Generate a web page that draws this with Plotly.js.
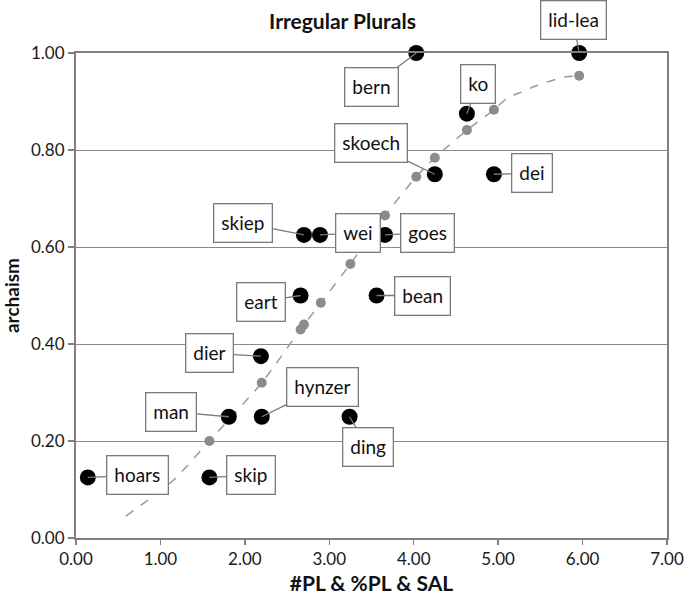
<!DOCTYPE html>
<html>
<head>
<meta charset="utf-8">
<script src="https://cdn.plot.ly/plotly-3.0.1.min.js"></script>
<style>html,body{margin:0;padding:0;background:#fff;}#chart{width:685px;height:595px;}</style>
</head>
<body>
<div id="chart"></div>
<script>
// ---- data ----
const words   = ['hoars','skip','man','hynzer','ding','dier','eart','bean','skiep','wei','goes','skoech','dei','ko','bern','lid-lea'];
const wordX   = [0.14, 1.58, 1.81, 2.20, 3.24, 2.19, 2.66, 3.56, 2.70, 2.89, 3.66, 4.25, 4.95, 4.63, 4.03, 5.96];
const wordY   = [0.125,0.125,0.25, 0.25, 0.25, 0.375,0.50, 0.50, 0.625,0.625,0.625,0.75, 0.75, 0.875,1.00, 1.00];

const fitX    = [1.58, 2.20, 2.66, 2.70, 2.90, 3.25, 3.66, 4.03, 4.25, 4.63, 4.95, 5.96];
const fitY    = [0.20, 0.32, 0.43, 0.44, 0.485,0.565,0.665,0.745,0.784,0.841,0.883,0.953];

const trendX  = [0.59, 0.96, 1.16, 1.58, 2.20, 2.68, 2.90, 3.25, 3.66, 4.03, 4.25, 4.63, 4.95, 5.10, 5.28, 5.46, 5.65, 5.81, 5.96];
const trendY  = [0.045,0.092,0.12, 0.20, 0.32, 0.435,0.485,0.565,0.665,0.745,0.784,0.841,0.883,0.906,0.92, 0.933,0.944,0.951,0.953];

const xTicks  = [0,1,2,3,4,5,6,7];
const xTickText = ['0.00','1.00','2.00','3.00','4.00','5.00','6.00','7.00'];
const yTicks  = [0,0.2,0.4,0.6,0.8,1.0];
const yTickText = ['0.00','0.20','0.40','0.60','0.80','1.00'];

// ---- label callout placement (pixel offsets of box from point) ----
const labelOffset = {
  'hoars':[50,-2], 'skip':[42,-2], 'man':[-58,-5], 'hynzer':[61,-30], 'ding':[18,30],
  'dier':[-51,-3], 'eart':[-40,6], 'bean':[46,0], 'skiep':[-61,-12], 'wei':[38,-2],
  'goes':[42,-2], 'skoech':[-64,-31], 'dei':[38,-1], 'ko':[11,-30], 'bern':[-45,34], 'lid-lea':[-6,-33]
};

const FONT = 'Lato, "Open Sans", sans-serif';

const traces = [
  {x: trendX, y: trendY, type:'scatter', mode:'lines', line:{color:'#9a9a9a', width:1.5, dash:'dash', shape:'spline', smoothing:0.6}, hoverinfo:'skip', cliponaxis:false},
  {x: fitX, y: fitY, type:'scatter', mode:'markers', marker:{color:'#8c8c8c', size:10}, cliponaxis:false},
  {x: wordX, y: wordY, type:'scatter', mode:'markers', marker:{color:'#000', size:16}, text: words, cliponaxis:false}
];

const annotations = words.map((w,i)=>({
  x: wordX[i], y: wordY[i], xref:'x', yref:'y',
  text: w, showarrow:true, arrowhead:0, arrowwidth:1.3, arrowcolor:'#7a7a7a',
  ax: labelOffset[w][0], ay: labelOffset[w][1], standoff:0,
  bgcolor:'#fff', bordercolor:'#7a7a7a', borderwidth:1.3, borderpad:7,
  font:{family:FONT, size:19, color:'#111'}
}));

const layout = {
  width:685, height:595,
  margin:{l:76, r:18, t:53, b:57},
  paper_bgcolor:'#fff', plot_bgcolor:'#fff',
  showlegend:false,
  font:{family:FONT, color:'#222'},
  title:{text:'<b>Irregular Plurals</b>', font:{family:FONT, size:21, color:'#111', weight:900}, x:0.5, xanchor:'center', y:0.963, yanchor:'middle'},
  xaxis:{
    range:[0,7], tickvals:xTicks, ticktext:xTickText, ticks:'outside', ticklen:5, tickcolor:'#808080', tickwidth:1.5,
    showline:true, linecolor:'#808080', linewidth:2, mirror:true, showgrid:false, zeroline:false,
    tickfont:{family:FONT, size:17, color:'#1a1a1a'},
    title:{text:'<b>#PL &amp; %PL &amp; SAL</b>', font:{family:FONT, size:21, color:'#111', weight:900}, standoff:12}
  },
  yaxis:{
    range:[0,1], tickvals:yTicks, ticktext:yTickText, ticks:'outside', ticklen:6, tickcolor:'#808080', tickwidth:1.5,
    showline:true, linecolor:'#808080', linewidth:2, mirror:true, showgrid:true, gridcolor:'#8a8a8a', gridwidth:1, zeroline:false,
    tickfont:{family:FONT, size:17, color:'#1a1a1a'},
    title:{text:'<b>archaism</b>', font:{family:FONT, size:19, color:'#111', weight:900}, standoff:8}
  },
  annotations: annotations
};

Plotly.newPlot('chart', traces, layout, {displayModeBar:false, staticPlot:true});
</script>
</body>
</html>
